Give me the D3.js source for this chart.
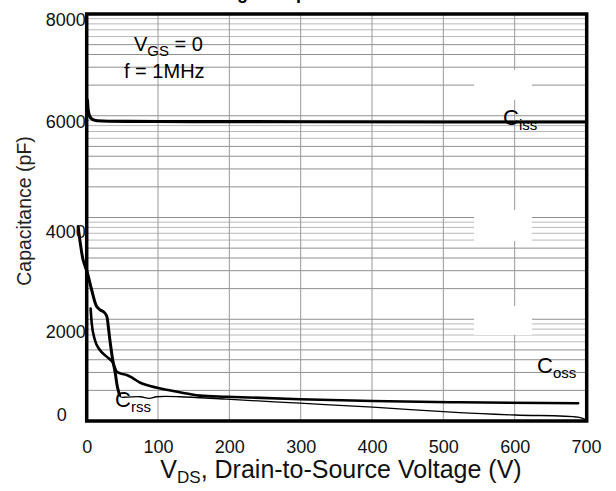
<!DOCTYPE html>
<html>
<head>
<meta charset="utf-8">
<script src="https://cdn.jsdelivr.net/npm/d3@7"></script>
<style>
  body { margin: 0; background: #fff; }
  svg { display: block; font-family: "Liberation Sans", Arial, Helvetica, sans-serif; }
</style>
</head>
<body>
<svg id="chart" width="616" height="491"></svg>
<script>
// ---- data ----
const xTicks = [0, 100, 200, 300, 400, 500, 600, 700];
const yTicks = [0, 2000, 4000, 6000, 8000];

// Input capacitance
const cissV = [1, 2, 4, 8, 15, 30, 100, 300, 500, 700];
const cissC = [6430, 6235, 6120, 6050, 6025, 6015, 6010, 6005, 6000, 6000];

// Output capacitance
const cossV = [5.5, 7, 11.5, 18.5, 28, 37, 42, 47, 56, 65, 75, 84, 112, 140, 159, 196, 299, 401, 523, 689];
const cossC = [2470, 2180, 1820, 1595, 1445, 1300, 1110, 1070, 1035, 960, 860, 810, 700, 620, 570, 545, 490, 450, 420, 400];

// Reverse transfer capacitance
const crssV = [-12, -9, -5, 1, 7, 14, 19, 24, 28, 30, 32.5, 36.5, 40, 43, 46, 48, 56, 75, 88, 98, 131, 196, 299, 401, 523, 601, 689, 700];
const crssC = [4100, 3780, 3440, 3180, 2840, 2510, 2440, 2400, 2320, 2140, 1820, 1370, 1080, 770, 585, 540, 535, 545, 510, 545, 545, 490, 400, 310, 190, 135, 85, 25];

// Background grid (logarithmic ruling)
const gridDecades = [1, 10, 100, 1000];
const gridSteps = [1, 2, 3, 4, 5, 6, 7, 8, 9];

// ---- layout ----
const svg = d3.select("#chart");
const plot = { left: 86.7, right: 586.7, top: 14, bottom: 421 };

const x = d3.scaleLinear().domain([0, 700]).range([plot.left, 586.0]);
const y = d3.scaleLinear().domain(yTicks).range([421, 332, 232, 122, 20]);
const gridY = d3.scaleLog().domain([1, 10000]).range([plot.bottom, plot.top]);

svg.append("rect").attr("width", 616).attr("height", 491).attr("fill", "#fff");

// horizontal ruling
const gridVals = [];
gridDecades.forEach(d => gridSteps.forEach(k => gridVals.push({ v: d * k, k })));
gridVals.push({ v: 10000, k: 1 });

const grid = svg.append("g");
grid.selectAll("line.h").data(gridVals).join("line")
  .attr("class", "h")
  .attr("x1", plot.left).attr("x2", plot.right)
  .attr("y1", d => gridY(d.v)).attr("y2", d => gridY(d.v))
  .attr("stroke", d => d.k >= 6 ? "#b8b8b8" : "#8f8f8f")
  .attr("stroke-width", 1);

// vertical ruling
grid.selectAll("line.v").data(xTicks).join("line")
  .attr("class", "v")
  .attr("x1", d => x(d)).attr("x2", d => x(d))
  .attr("y1", plot.top).attr("y2", plot.bottom)
  .attr("stroke", "#999").attr("stroke-width", 1);

// blank patches in the ruling
const patches = [[474, 70, 58, 30], [474, 210, 58, 31], [474, 306, 58, 29]];
grid.selectAll("rect.patch").data(patches).join("rect")
  .attr("class", "patch")
  .attr("x", d => d[0]).attr("y", d => d[1])
  .attr("width", d => d[2]).attr("height", d => d[3])
  .attr("fill", "#fff");

// ---- curves ----
const line = d3.line().x(d => x(d[0])).y(d => y(d[1])).curve(d3.curveMonotoneX);
const lineSmooth = d3.line().x(d => x(d[0])).y(d => y(d[1])).curve(d3.curveCatmullRom);
const zipSeries = (vs, cs) => vs.map((v, i) => [v, cs[i]]);

const ciss = zipSeries(cissV, cissC);
const coss = zipSeries(cossV, cossC);
const crss = zipSeries(crssV, crssC);
const crssSteep = crss.filter(d => d[0] <= 46);
const crssTail = crss.filter(d => d[0] >= 46);

const curves = svg.append("g").attr("fill", "none").attr("stroke", "#000")
  .attr("stroke-linejoin", "round").attr("stroke-linecap", "round");

curves.append("path").attr("d", line(ciss)).attr("stroke-width", 3.2);
curves.append("path").attr("d", line(coss)).attr("stroke-width", 2.6);
curves.append("path").attr("d", lineSmooth(crssSteep)).attr("stroke-width", 3);
curves.append("path").attr("d", lineSmooth(crssTail)).attr("stroke-width", 1.3);

// ---- frame ----
svg.append("rect")
  .attr("x", plot.left).attr("y", plot.top)
  .attr("width", plot.right - plot.left).attr("height", plot.bottom - plot.top)
  .attr("fill", "none").attr("stroke", "#000").attr("stroke-width", 3.5);

// ---- axes ----
const yAxis = svg.append("g")
  .attr("transform", `translate(${plot.left - 1},0)`)
  .call(d3.axisLeft(y).tickValues(yTicks).tickSize(0).tickPadding(0).tickFormat(d3.format("d")));
yAxis.select(".domain").remove();
yAxis.selectAll("text").attr("font-size", 18).attr("fill", "#111")
  .attr("font-family", "Liberation Sans, Arial, sans-serif");
yAxis.selectAll(".tick").filter(d => d === 0).select("text")
  .attr("dx", -19).attr("dy", "0em").attr("y", -1);

const xAxis = svg.append("g")
  .attr("transform", `translate(0,${plot.bottom + 19})`)
  .call(d3.axisBottom(x).tickValues(xTicks).tickSize(0).tickPadding(0).tickFormat(d3.format("d")));
xAxis.select(".domain").remove();
xAxis.selectAll("text").attr("font-size", 18).attr("fill", "#111")
  .attr("font-family", "Liberation Sans, Arial, sans-serif");

// ---- titles ----
svg.append("text")
  .attr("x", 300).attr("y", -1)
  .attr("text-anchor", "middle")
  .attr("font-size", 18).attr("font-weight", "bold")
  .text("Fig 5. Capacitance");

const xt = svg.append("text")
  .attr("x", 341).attr("y", 478)
  .attr("text-anchor", "middle")
  .attr("font-size", 25).attr("fill", "#111");
xt.append("tspan").text("V");
xt.append("tspan").attr("font-size", 17).attr("dy", 5).text("DS");
xt.append("tspan").attr("dy", -5).text(", Drain-to-Source Voltage (V)");

svg.append("text")
  .attr("transform", "translate(31,211) rotate(-90)")
  .attr("text-anchor", "middle")
  .attr("font-size", 19.5).attr("fill", "#222")
  .text("Capacitance (pF)");

// ---- annotations ----
const vgs = svg.append("text").attr("x", 134).attr("y", 51).attr("font-size", 20);
vgs.append("tspan").text("V");
vgs.append("tspan").attr("font-size", 15).attr("dy", 5).text("GS");
vgs.append("tspan").attr("dy", -5).text(" = 0");

svg.append("text").attr("x", 124).attr("y", 78).attr("font-size", 20).text("f = 1MHz");

function capLabel(px, py, sub) {
  const t = svg.append("text").attr("x", px).attr("y", py).attr("font-size", 22);
  t.append("tspan").text("C");
  t.append("tspan").attr("font-size", 15).attr("dy", 5).text(sub);
}
capLabel(503, 125, "iss");
capLabel(537, 373, "oss");
capLabel(115, 407, "rss");
</script>
</body>
</html>
